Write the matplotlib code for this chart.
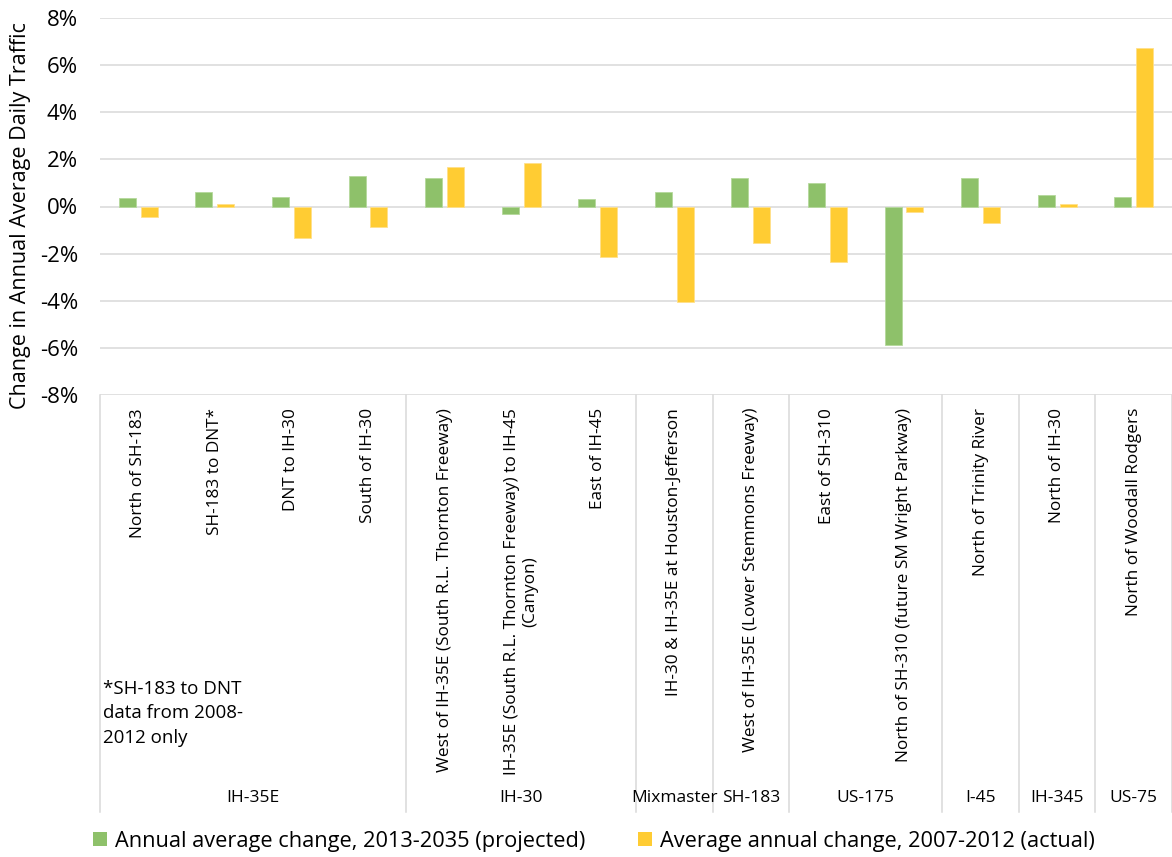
import matplotlib
matplotlib.use("Agg")
import matplotlib.pyplot as plt
from matplotlib.patches import Patch
import matplotlib.transforms as mtransforms
import numpy as np

plt.rcParams['font.family'] = ['Open Sans', 'DejaVu Sans']

categories = [
    "North of SH-183",
    "SH-183 to DNT*",
    "DNT to IH-30",
    "South of IH-30",
    "West of IH-35E (South R.L. Thornton Freeway)",
    "IH-35E (South R.L. Thornton Freeway) to IH-45\n(Canyon)",
    "East of IH-45",
    "IH-30 & IH-35E at Houston-Jefferson",
    "West of IH-35E (Lower Stemmons Freeway)",
    "East of SH-310",
    "North of SH-310 (future SM Wright Parkway)",
    "North of Trinity River",
    "North of IH-30",
    "North of Woodall Rodgers",
]
projected = [0.35, 0.61, 0.41, 1.30, 1.20, -0.30, 0.32, 0.62, 1.19, 1.00, -5.86, 1.20, 0.49, 0.42]
actual = [-0.44, 0.11, -1.34, -0.86, 1.69, 1.84, -2.13, -4.04, -1.53, -2.36, -0.24, -0.72, 0.11, 6.71]
groups = ["IH-35E", "IH-30", "Mixmaster", "SH-183", "US-175", "I-45", "IH-345", "US-75"]
group_sizes = [4, 3, 1, 1, 2, 1, 1, 1]
yticks = [-8, -6, -4, -2, 0, 2, 4, 6, 8]
series_names = ["Annual average change, 2013-2035 (projected)",
                "Average annual change, 2007-2012 (actual)"]
footnote = "*SH-183 to DNT\ndata from 2008-\n2012 only"
ylabel = "Change in Annual Average Daily Traffic"

GREEN = "#8EC16A"
YELLOW = "#FFCC33"
GRID = "#D9D9D9"

W, H = 1172, 857
fig = plt.figure(figsize=(W / 100, H / 100), dpi=100)
left, right, top, bottom = 100, 1172, 18, 395
ax = fig.add_axes([left / W, 1 - bottom / H, (right - left) / W, (bottom - top) / H])

x = np.arange(len(categories))
bw = 0.222
off = 0.143
ax.bar(x - off, projected, width=bw, color=GREEN, edgecolor="#B5D99C", linewidth=0.6, zorder=3)
ax.bar(x + off, actual, width=bw, color=YELLOW, edgecolor="#FFE08A", linewidth=0.6, zorder=3)

ax.set_xlim(-0.5, len(categories) - 0.5)
ax.set_ylim(-8, 8)
ax.set_yticks(yticks)
ax.set_yticklabels([f"{v}%" for v in yticks], fontsize=16, color="#000000")
ax.tick_params(axis='y', length=0, pad=15.8)
ax.set_xticks([])
for s in ax.spines.values():
    s.set_visible(False)
for v in yticks:
    ax.axhline(v, color=GRID, lw=1.1, zorder=1)

trans = mtransforms.blended_transform_factory(ax.transData, ax.transAxes)
ax_h = bottom - top
for xi, lab in zip(x, categories):
    ax.text(xi, -13 / ax_h, lab, rotation=90, ha='center', va='top',
            multialignment='center', fontsize=12.4, transform=trans)

# group separators and labels
sep_bottom = -(812 - bottom) / ax_h
bounds = [-0.5]
for gs in group_sizes:
    bounds.append(bounds[-1] + gs)
for b in bounds:
    ax.plot([b, b], [0, sep_bottom], color=GRID, lw=1.1, transform=trans, clip_on=False)
for g, a, b in zip(groups, bounds[:-1], bounds[1:]):
    ax.text((a + b) / 2, -(798 - bottom) / ax_h, g, ha='center', va='center',
            fontsize=12.5, transform=trans)

ax.text(3 / (right - left), -(680 - bottom) / ax_h, footnote, ha='left', va='top',
        fontsize=13.5, linespacing=1.45, transform=ax.transAxes)

fig.text(21 / W, 1 - 216 / H, ylabel, rotation=90, ha='center', va='center', fontsize=15.5)

handles = [Patch(facecolor=GREEN), Patch(facecolor=YELLOW)]
fig.legend(handles, series_names, loc='center left', bbox_to_anchor=(93 / W, 1 - 841 / H),
           ncol=2, frameon=False, fontsize=15.7, handlelength=0.64, handleheight=0.64,
           handletextpad=0.37, columnspacing=2.4, borderaxespad=0, borderpad=0)

fig.savefig("out.png", dpi=100)
